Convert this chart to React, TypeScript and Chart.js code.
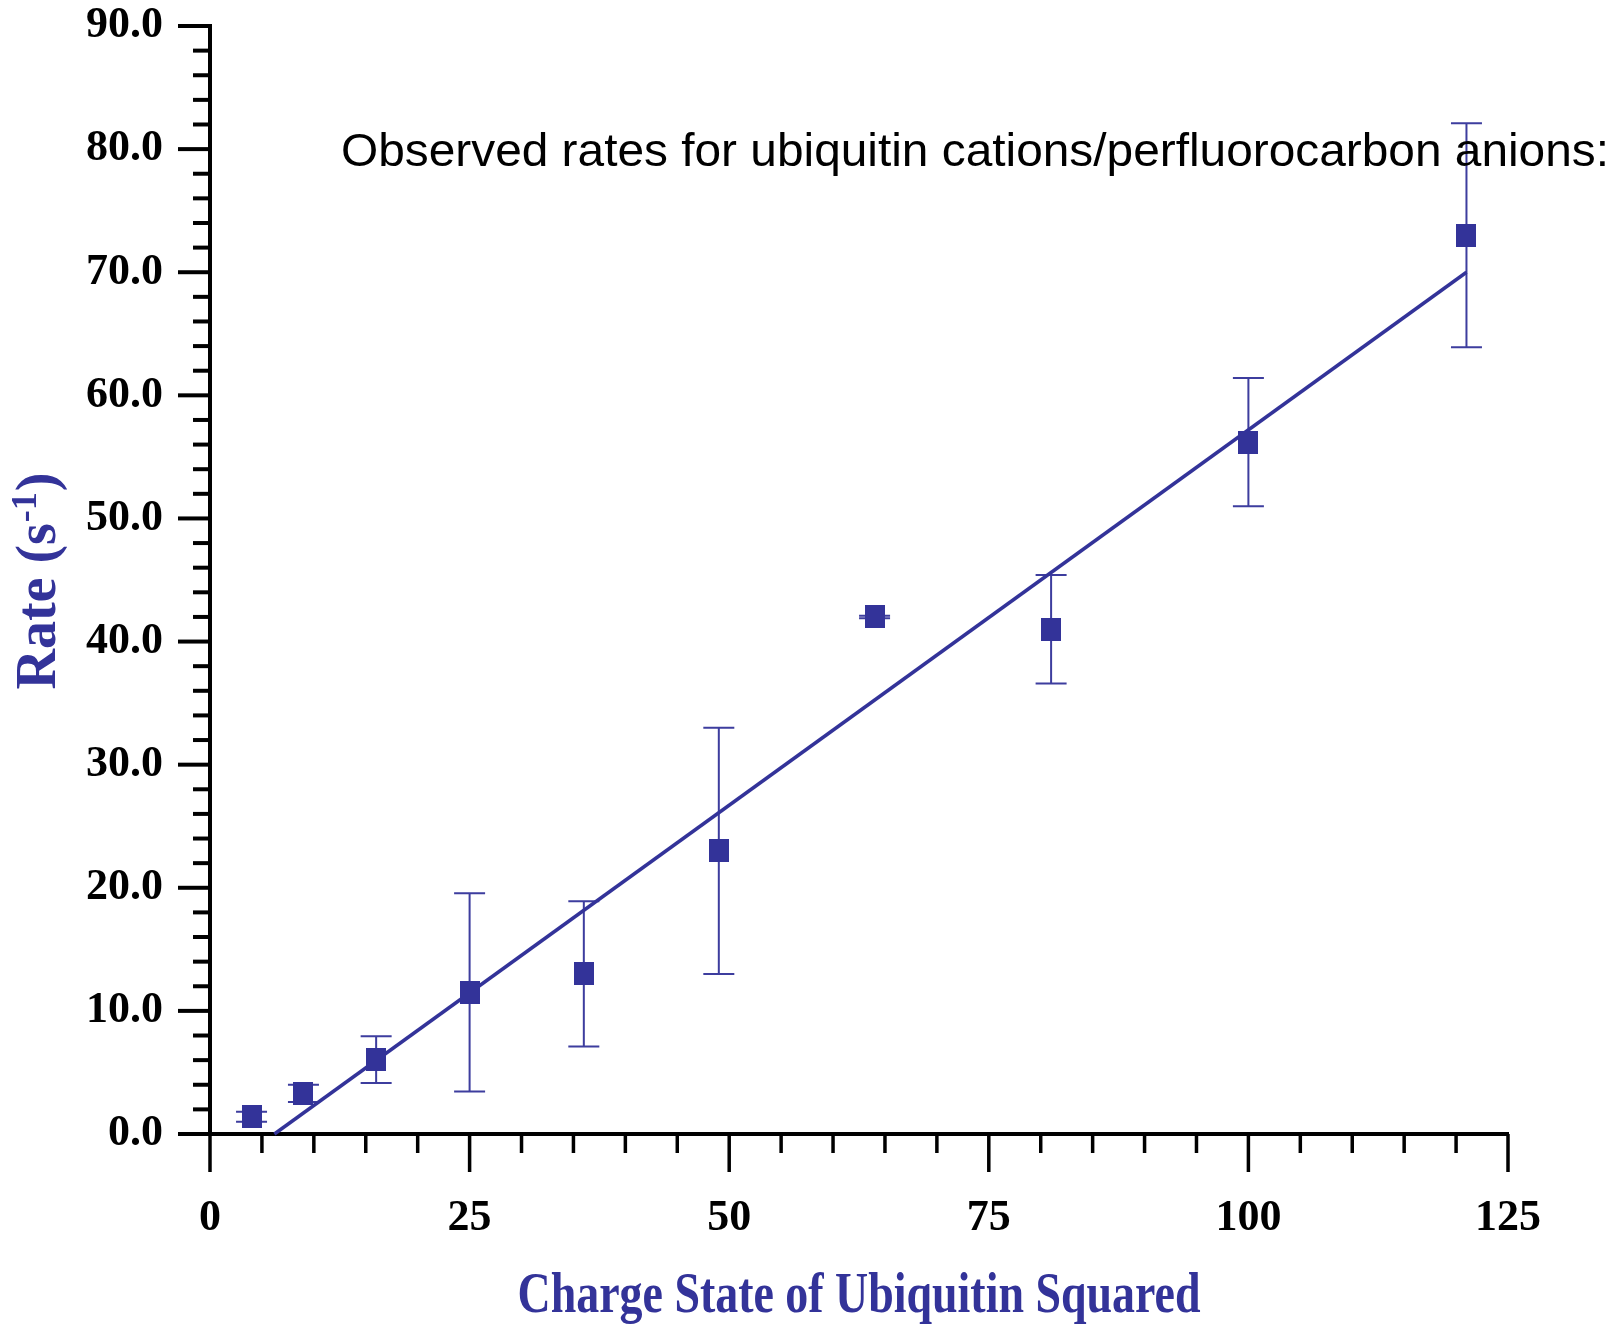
import React, { useEffect, useRef } from 'react';
import { Chart, registerables } from 'chart.js';

Chart.register(...registerables);

// ---- data ----
const chargeSquared = [4, 9, 16, 25, 36, 49, 64, 81, 100, 121];
const rates = [1.4, 3.3, 6.05, 11.5, 13.0, 23.0, 42.0, 41.0, 56.2, 73.0];
const rateErrors = [0.4, 0.7, 1.9, 8.05, 5.9, 10.0, 0.1, 4.4, 5.2, 9.1];
const fitX = [6.2, 121];
const fitY = [0, 70.0];
const xTickValues = [0, 25, 50, 75, 100, 125];
const yTickValues = [0, 10, 20, 30, 40, 50, 60, 70, 80, 90];
const xMinorStep = 5;
const yMinorStep = 2;
const xTitle = 'Charge State of Ubiquitin Squared';
const yTitleMain = 'Rate (s';
const yTitleSup = '-1';
const yTitleEnd = ')';
const annotationText = 'Observed rates for ubiquitin cations/perfluorocarbon anions:';

const BLUE = '#333399';
const W = 1617;
const H = 1325;

function makeMarker(): HTMLCanvasElement {
  const c = document.createElement('canvas');
  c.width = 20;
  c.height = 23;
  const g = c.getContext('2d');
  if (g) {
    g.fillStyle = BLUE;
    g.fillRect(0, 0, 20, 23);
  }
  return c;
}

const decorPlugin = {
  id: 'decor',
  beforeDatasetsDraw(chart: any) {
    const ctx = chart.ctx;
    const xs = chart.scales.x;
    const ys = chart.scales.y;
    // error bars
    ctx.save();
    ctx.strokeStyle = '#3d3d9e';
    ctx.lineWidth = 2;
    const cap = 15.5;
    for (let i = 0; i < chargeSquared.length; i++) {
      const px = xs.getPixelForValue(chargeSquared[i]);
      const top = ys.getPixelForValue(rates[i] + rateErrors[i]);
      const bot = ys.getPixelForValue(rates[i] - rateErrors[i]);
      ctx.beginPath();
      ctx.moveTo(px, top);
      ctx.lineTo(px, bot);
      ctx.moveTo(px - cap, top);
      ctx.lineTo(px + cap, top);
      ctx.moveTo(px - cap, bot);
      ctx.lineTo(px + cap, bot);
      ctx.stroke();
    }
    ctx.restore();
  },
  afterDraw(chart: any) {
    const ctx = chart.ctx;
    const xs = chart.scales.x;
    const ys = chart.scales.y;
    const area = chart.chartArea;
    ctx.save();
    ctx.strokeStyle = '#000';
    ctx.lineCap = 'butt';
    // y ticks
    ctx.lineWidth = 4;
    const yMin = yTickValues[0];
    const yMax = yTickValues[yTickValues.length - 1];
    for (let v = yMin; v <= yMax + 1e-9; v += yMinorStep) {
      const major = yTickValues.some((t) => Math.abs(t - v) < 1e-9);
      const py = ys.getPixelForValue(v);
      const len = major ? 32 : 17;
      ctx.beginPath();
      ctx.moveTo(area.left, py);
      ctx.lineTo(area.left - len, py);
      ctx.stroke();
    }
    // x ticks
    ctx.lineWidth = 3.5;
    const xMin = xTickValues[0];
    const xMax = xTickValues[xTickValues.length - 1];
    for (let v = xMin; v <= xMax + 1e-9; v += xMinorStep) {
      const major = xTickValues.some((t) => Math.abs(t - v) < 1e-9);
      const px = xs.getPixelForValue(v);
      const len = major ? 38 : 19;
      ctx.beginPath();
      ctx.moveTo(px, area.bottom);
      ctx.lineTo(px, area.bottom + len);
      ctx.stroke();
    }
    ctx.restore();

    // annotation text
    ctx.save();
    ctx.fillStyle = '#000';
    ctx.font = '47px "Liberation Sans", Arial, sans-serif';
    ctx.textBaseline = 'alphabetic';
    ctx.textAlign = 'left';
    const aw = ctx.measureText(annotationText).width;
    const targetW = 1268;
    ctx.translate(341, 166);
    ctx.scale(targetW / aw, 1);
    ctx.fillText(annotationText, 0, 0);
    ctx.restore();

    // x title (condensed)
    ctx.save();
    ctx.fillStyle = BLUE;
    ctx.font = 'bold 58px "Liberation Serif", "Times New Roman", serif';
    ctx.textBaseline = 'alphabetic';
    ctx.textAlign = 'center';
    const xw = ctx.measureText(xTitle).width;
    ctx.translate(859, 1312);
    ctx.scale(683 / xw, 1);
    ctx.fillText(xTitle, 0, 0);
    ctx.restore();

    // y title with superscript
    ctx.save();
    ctx.fillStyle = BLUE;
    ctx.textBaseline = 'alphabetic';
    ctx.textAlign = 'left';
    const mainFont = 'bold 56px "Liberation Serif", "Times New Roman", serif';
    const supFont = 'bold 36px "Liberation Serif", "Times New Roman", serif';
    ctx.font = mainFont;
    const w1 = ctx.measureText(yTitleMain).width;
    const w3 = ctx.measureText(yTitleEnd).width;
    ctx.font = supFont;
    const w2 = ctx.measureText(yTitleSup).width;
    const total = w1 + w2 + w3 + 2;
    ctx.translate(55, 581);
    ctx.rotate(-Math.PI / 2);
    let cx = -total / 2;
    ctx.font = mainFont;
    ctx.fillText(yTitleMain, cx, 0);
    cx += w1 + 1;
    ctx.font = supFont;
    ctx.fillText(yTitleSup, cx, -19);
    cx += w2 + 1;
    ctx.font = mainFont;
    ctx.fillText(yTitleEnd, cx, 0);
    ctx.restore();
  },
};

export default function App() {
  const canvasRef = useRef<HTMLCanvasElement | null>(null);

  useEffect(() => {
    if (!canvasRef.current) return;
    const tickFont = { family: '"Liberation Serif", "Times New Roman", serif', size: 44, weight: 'bold' as const };
    const marker = makeMarker();
    const chart = new Chart(canvasRef.current, {
      type: 'scatter',
      data: {
        datasets: [
          {
            label: 'Observed rates',
            data: chargeSquared.map((x, i) => ({ x, y: rates[i] })),
            pointStyle: marker as any,
            pointRadius: 12,
            pointHoverRadius: 12,
            backgroundColor: BLUE,
            borderColor: BLUE,
            borderWidth: 0,
            showLine: false,
            clip: false,
          },
          {
            label: 'Fit',
            data: fitX.map((x, i) => ({ x, y: fitY[i] })),
            showLine: true,
            borderColor: BLUE,
            borderWidth: 3.5,
            pointRadius: 0,
            fill: false,
            clip: false,
          },
        ],
      },
      options: {
        animation: false,
        responsive: true,
        maintainAspectRatio: false,
        events: [],
        layout: { padding: { top: 26, right: 109, left: 0, bottom: 0 } },
        plugins: {
          legend: { display: false },
          tooltip: { enabled: false },
          title: { display: false },
        },
        scales: {
          x: {
            type: 'linear',
            position: 'bottom',
            min: 0,
            max: 125,
            afterBuildTicks: (scale: any) => {
              scale.ticks = xTickValues.map((v) => ({ value: v }));
            },
            afterFit: (scale: any) => {
              scale.height = 191;
              scale.paddingLeft = 0;
              scale.paddingRight = 0;
            },
            grid: { display: false, drawTicks: false },
            border: { display: true, color: '#000', width: 4 },
            ticks: {
              color: '#000',
              font: tickFont,
              padding: 58,
              maxRotation: 0,
              autoSkip: false,
              callback: (v: any) => String(v),
            },
          },
          y: {
            type: 'linear',
            position: 'left',
            min: 0,
            max: 90,
            afterBuildTicks: (scale: any) => {
              scale.ticks = yTickValues.map((v) => ({ value: v }));
            },
            afterFit: (scale: any) => {
              scale.width = 210;
              scale.paddingTop = 0;
              scale.paddingBottom = 0;
            },
            grid: { display: false, drawTicks: false },
            border: { display: true, color: '#000', width: 4 },
            ticks: {
              color: '#000',
              font: tickFont,
              padding: 47,
              autoSkip: false,
              callback: (v: any) => Number(v).toFixed(1),
            },
          },
        },
      },
      plugins: [decorPlugin],
    });
    return () => chart.destroy();
  }, []);

  return (
    <div style={{ position: 'absolute', left: 0, top: 0, width: W, height: H, background: '#fff' }}>
      <canvas ref={canvasRef} />
    </div>
  );
}
